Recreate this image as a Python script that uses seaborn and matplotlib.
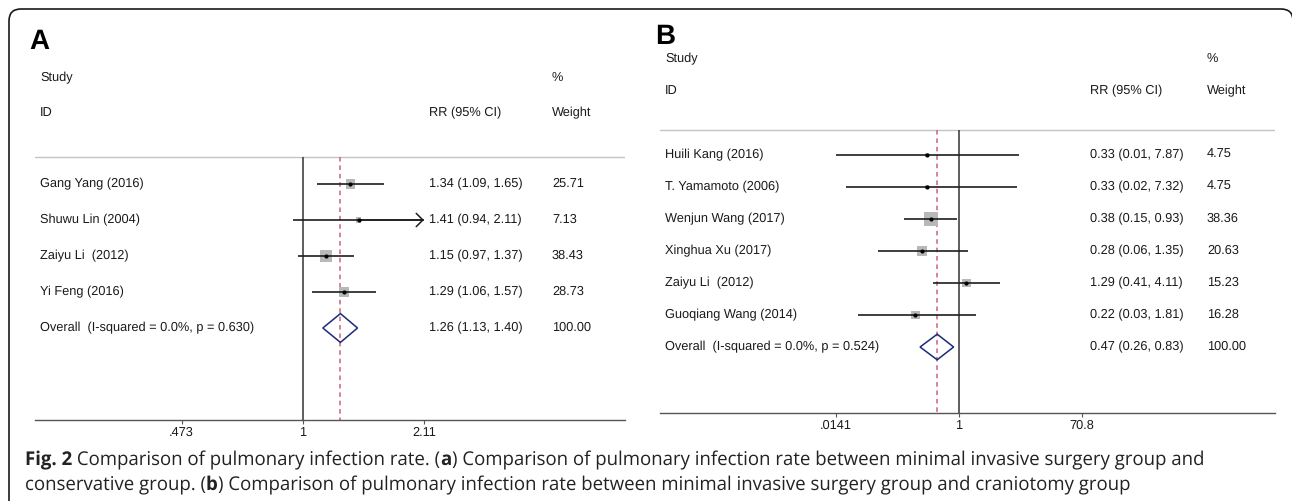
"""
Forest plots: pulmonary infection rate (panels A and B) with figure caption
"""

import numpy as np
import pandas as pd
import matplotlib.pyplot as plt
import seaborn as sns
from matplotlib.patches import FancyBboxPatch, Polygon

# ---- Panel A data ----
studies_a = ['Gang Yang (2016)', 'Shuwu Lin (2004)', 'Zaiyu Li  (2012)', 'Yi Feng (2016)']
rr_a = [1.34, 1.41, 1.15, 1.29]
lo_a = [1.09, 0.94, 0.97, 1.06]
hi_a = [1.65, 2.11, 1.37, 1.57]
wt_a = [25.71, 7.13, 38.43, 28.73]
overall_label_a = 'Overall  (I-squared = 0.0%, p = 0.630)'
pooled_a = [1.26, 1.13, 1.40]
ticks_a = [0.473, 1, 2.11]
tick_labels_a = ['.473', '1', '2.11']

# ---- Panel B data ----
studies_b = ['Huili Kang (2016)', 'T. Yamamoto (2006)', 'Wenjun Wang (2017)',
             'Xinghua Xu (2017)', 'Zaiyu Li  (2012)', 'Guoqiang Wang (2014)']
rr_b = [0.33, 0.33, 0.38, 0.28, 1.29, 0.22]
lo_b = [0.01, 0.02, 0.15, 0.06, 0.41, 0.03]
hi_b = [7.87, 7.32, 0.93, 1.35, 4.11, 1.81]
wt_b = [4.75, 4.75, 38.36, 20.63, 15.23, 16.28]
overall_label_b = 'Overall  (I-squared = 0.0%, p = 0.524)'
pooled_b = [0.47, 0.26, 0.83]
ticks_b = [0.0141, 1, 70.8]
tick_labels_b = ['.0141', '1', '70.8']

caption_line1 = [('Fig. 2', 'bold'), (' Comparison of pulmonary infection rate. (', 'normal'), ('a', 'bold'),
                 (') Comparison of pulmonary infection rate between minimal invasive surgery group and', 'normal')]
caption_line2 = [('conservative group. (', 'normal'), ('b', 'bold'),
                 (') Comparison of pulmonary infection rate between minimal invasive surgery group and craniotomy group',
                  'normal')]

W, H = 1292, 501
sns.set_theme(style='white')
plt.rcParams['font.family'] = ['Liberation Sans', 'DejaVu Sans']
plt.rcParams['text.hinting'] = 'no_hinting'

TXT = '#1a1a1a'
FS = 9.2

fig = plt.figure(figsize=(W / 100, H / 100), dpi=100)


def forest(names, rr, lo, hi, wt, overall_label, pooled, ticks, tick_labels, lay):
    left, right, top, bottom = lay['left'], lay['right'], lay['top'], lay['bottom']
    ax = fig.add_axes([left / W, 1 - bottom / H, (right - left) / W, (bottom - top) / H])
    k = lay['k']
    x1 = lay['x_one']
    ax.set_xscale('log')
    ax.set_xlim(np.exp((left - x1) / k), np.exp((right - x1) / k))

    def ypx(p):
        return 1 + (p - lay['row1']) / lay['gap']

    ax.set_ylim(ypx(bottom), ypx(top))

    def xfrac(p):
        return (p - left) / (right - left)

    tr = ax.get_yaxis_transform()
    n = len(names)
    rows = np.arange(1, n + 1)
    df = pd.DataFrame({'rr': rr, 'lo': lo, 'hi': hi, 'wt': wt, 'row': rows})

    # headers
    ax.text(xfrac(lay['x_name']), ypx(lay['y_study']), 'Study', transform=tr, va='center', fontsize=FS, color=TXT)
    ax.text(xfrac(lay['x_name']), ypx(lay['y_id']), 'ID', transform=tr, va='center', fontsize=FS, color=TXT)
    ax.text(xfrac(lay['x_rr']), ypx(lay['y_id']), 'RR (95% CI)', transform=tr, va='center', fontsize=FS, color=TXT)
    ax.text(xfrac(lay['x_wt']), ypx(lay['y_study']), '%', transform=tr, va='center', fontsize=FS, color=TXT)
    ax.text(xfrac(lay['x_wt']), ypx(lay['y_id']), 'Weight', transform=tr, va='center', fontsize=FS, color=TXT)

    gray_y = ypx(lay['y_gray'])
    ax.axhline(gray_y, color='#c4c4c4', lw=1.0, zorder=1)
    ax.vlines(1, gray_y, ypx(bottom), color='#333333', lw=1.1, zorder=2)
    ax.vlines(pooled[0], gray_y, ypx(bottom), color='#c8647a', lw=1.1,
              linestyles=(0, (3, 2.5)), zorder=2)

    # weighted boxes
    wmax = df['wt'].max()
    sns.scatterplot(data=df, x='rr', y='row', size='wt', sizes=(0, lay['box'] * wmax),
                    size_norm=(0, wmax), marker='s', color='#b8b8b8', linewidth=0,
                    legend=False, ax=ax, zorder=3)
    lo_c = df['lo'].clip(lower=ticks[0])
    hi_c = df['hi'].clip(upper=ticks[-1])
    ax.hlines(df['row'], lo_c, hi_c, color='#1e1e1e', lw=1.2, zorder=4)
    for _, r in df[df['hi'] >= ticks[-1]].iterrows():
        ax.annotate('', xy=(ticks[-1], r['row']), xytext=(r['rr'], r['row']),
                    arrowprops=dict(arrowstyle='->,head_length=0.4,head_width=0.4',
                                    color='#1e1e1e', lw=1.1, shrinkA=0, shrinkB=0), zorder=4)
    sns.scatterplot(data=df, x='rr', y='row', marker='o', s=9, color='black',
                    linewidth=0, legend=False, ax=ax, zorder=5)

    for i, r in df.iterrows():
        ax.text(xfrac(lay['x_name']), r['row'], names[i], transform=tr, va='center', fontsize=FS, color=TXT)
        ax.text(xfrac(lay['x_rr']), r['row'], f"{r['rr']:.2f} ({r['lo']:.2f}, {r['hi']:.2f})",
                transform=tr, va='center', fontsize=FS, color=TXT)
        ax.text(xfrac(lay['x_wt']), r['row'], f"{r['wt']:.2f}", transform=tr, va='center',
                fontsize=FS, color=TXT)

    # pooled diamond
    yo = n + 1
    h = lay['dia_h']
    ax.add_patch(Polygon([(pooled[1], yo), (pooled[0], yo - h), (pooled[2], yo), (pooled[0], yo + h)],
                         closed=True, fill=False, edgecolor='#1c2a7a', lw=1.1, zorder=5))
    ax.text(xfrac(lay['x_name']), yo, overall_label, transform=tr, va='center', fontsize=FS, color=TXT)
    ax.text(xfrac(lay['x_rr']), yo, f"{pooled[0]:.2f} ({pooled[1]:.2f}, {pooled[2]:.2f})",
            transform=tr, va='center', fontsize=FS, color=TXT)
    ax.text(xfrac(lay['x_wt']), yo, f"{100:.2f}", transform=tr, va='center', fontsize=FS, color=TXT)

    # axis
    for s in ['left', 'right', 'top']:
        ax.spines[s].set_visible(False)
    ax.spines['bottom'].set_color('#555555')
    ax.spines['bottom'].set_linewidth(1.0)
    ax.set_xticks(ticks)
    ax.set_xticklabels(tick_labels)
    ax.minorticks_off()
    ax.tick_params(axis='x', bottom=True, length=3, width=0.8, color='#555555',
                   pad=1.5, labelsize=FS, labelcolor=TXT)
    ax.set_yticks([])
    ax.set_xlabel('')
    ax.set_ylabel('')
    ax.patch.set_alpha(0)
    return ax


lay_a = dict(left=35, right=625, top=20, bottom=420, x_one=303, k=162, row1=184, gap=36,
             x_name=40, x_rr=429, x_wt=552, y_study=78, y_id=113, y_gray=157, box=1.9, dia_h=0.4)
lay_b = dict(left=660, right=1275, top=20, bottom=413, x_one=959, k=28.9, row1=155, gap=32,
             x_name=665, x_rr=1090, x_wt=1207, y_study=59, y_id=91, y_gray=130, box=2.4, dia_h=0.4)

forest(studies_a, rr_a, lo_a, hi_a, wt_a, overall_label_a, pooled_a, ticks_a, tick_labels_a, lay_a)
forest(studies_b, rr_b, lo_b, hi_b, wt_b, overall_label_b, pooled_b, ticks_b, tick_labels_b, lay_b)

# panel letters
fig.text(29 / W, 1 - 42 / H, 'A', fontsize=20, fontweight='bold', va='center', color='black')
fig.text(655 / W, 1 - 37 / H, 'B', fontsize=20, fontweight='bold', va='center', color='black')

# rounded frame
fig.patches.append(FancyBboxPatch((9, -20), 1284, H - 9 + 20, boxstyle='round,pad=0,rounding_size=12',
                                  transform=None, fill=False, edgecolor='#1a1a1a', lw=1.2))

# caption
renderer = fig.canvas.get_renderer()


def draw_runs(runs, x, y, size):
    out = []
    for s, w in runs:
        t = fig.text(x / W, 1 - y / H, s, fontsize=size, fontweight=w, va='baseline',
                     family=['Open Sans', 'DejaVu Sans'], color='#222222')
        x += t.get_window_extent(renderer).width
        out.append(t)
    return out, x


tmp, end = draw_runs(caption_line1, 25, 465, 10)
for t in tmp:
    t.remove()
cap_size = 10 * (1203 - 25) / (end - 25)
draw_runs(caption_line1, 25, 465, cap_size)
draw_runs(caption_line2, 25, 490, cap_size)

fig.savefig('out.png', dpi=100)
